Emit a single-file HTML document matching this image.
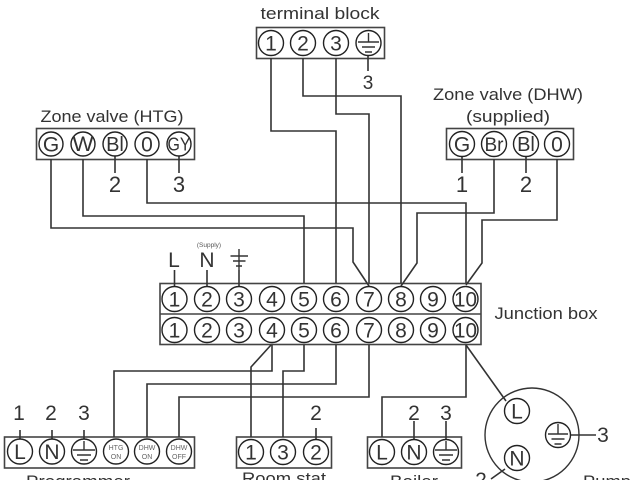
<!DOCTYPE html>
<html><head><meta charset="utf-8"><style>
html,body{margin:0;padding:0;background:#fff;width:640px;height:480px;overflow:hidden}
svg{display:block;filter:blur(.3px)}
text{font-family:"Liberation Sans",sans-serif;fill:#333;text-anchor:middle}
.w{fill:none;stroke:#333;stroke-width:1.6}
.b{fill:#fff;stroke:#444;stroke-width:1.6}
.c{fill:#fff;stroke:#222;stroke-width:1.4}
.g{fill:none;stroke:#333;stroke-width:1.4}
.n{font-size:21px}
.l{font-size:17px}
.s{font-size:6.5px;fill:#555}
</style></head><body>
<svg width="640" height="480" viewBox="0 0 640 480" xmlns="http://www.w3.org/2000/svg">
<!-- boxes -->
<rect class="b" x="256.5" y="27.5" width="128" height="31"/>
<rect class="b" x="36.5" y="128.5" width="158" height="31"/>
<rect class="b" x="446.5" y="128.5" width="127" height="31"/>
<rect class="b" x="160" y="283.5" width="321" height="61"/>
<path class="b" d="M160 314H481"/>
<rect class="b" x="4.5" y="437" width="190" height="31"/>
<rect class="b" x="236.5" y="437" width="95" height="31"/>
<rect class="b" x="367.5" y="437" width="94" height="31"/>
<circle cx="532" cy="435" r="47" fill="none" stroke="#333" stroke-width="1.4"/>
<!-- wires -->
<path class="w" d="M271 58V131H336V283"/>
<path class="w" d="M303 58V96H401V283"/>
<path class="w" d="M336 58V114H369V283"/>
<path class="w" d="M51 159V228H353V262L369 286"/>
<path class="w" d="M83 159V216H304V283"/>
<path class="w" d="M147 159V203H466V283"/>
<path class="w" d="M494 159V213H417V263L401 286"/>
<path class="w" d="M557 159V220H482V263L466 285"/>
<path class="w" d="M272 345V371H114V437"/>
<path class="w" d="M271 345L251 367V437"/>
<path class="w" d="M304 345V371H283V437"/>
<path class="w" d="M336 345V384H147V437"/>
<path class="w" d="M369 345V397H179V437"/>
<path class="w" d="M466 345V397H382V437"/>
<path class="w" d="M466 345L506 401"/>
<!-- ticks -->
<path class="w" d="M368 56V71M115 156V173M179 156V173M462 156V173M526 156V173M174.500 270V287M207 270V287M239 270V287M20 430V440M52 430V440M84 430V440M316 428V440M414 421V440M446 421V440M571 435H596M505 469L491 479"/>
<!-- terminal block circles -->
<circle class="c" cx="271" cy="43" r="12.500"/><text class="n" x="271" y="50.500">1</text>
<circle class="c" cx="303" cy="43" r="12.500"/><text class="n" x="303" y="50.500">2</text>
<circle class="c" cx="336" cy="43" r="12.500"/><text class="n" x="336" y="50.500">3</text>
<circle class="c" cx="368.500" cy="43" r="12.500"/>
<path class="g" d="M368.500 33V42M358 42H379M362 47H375M365 52H372"/>
<!-- HTG -->
<circle class="c" cx="51" cy="144" r="12"/><text class="n" x="51" y="151.500">G</text>
<circle class="c" cx="83" cy="144" r="12"/><text class="n" x="83" y="151" textLength="21" lengthAdjust="spacingAndGlyphs">W</text>
<circle class="c" cx="115" cy="144" r="12"/><text x="115" y="151" style="font-size:20px">Bl</text>
<circle class="c" cx="147" cy="144" r="12"/><text class="n" x="147" y="151.500">0</text>
<circle class="c" cx="179" cy="144" r="12"/><text x="179" y="150.500" style="font-size:18px" textLength="23" lengthAdjust="spacingAndGlyphs">GY</text>
<!-- DHW -->
<circle class="c" cx="462" cy="144" r="12.500"/><text class="n" x="462" y="151.500">G</text>
<circle class="c" cx="494" cy="144" r="12.500"/><text x="494" y="151" style="font-size:19px">Br</text>
<circle class="c" cx="526" cy="144" r="12.500"/><text x="526" y="151" style="font-size:20px">Bl</text>
<circle class="c" cx="557" cy="144" r="12.500"/><text class="n" x="557" y="151.500">0</text>
<!-- junction top -->
<circle class="c" cx="174.500" cy="299" r="12.500"/><text class="n" x="174.500" y="306.500">1</text>
<circle class="c" cx="207" cy="299" r="12.500"/><text class="n" x="207" y="306.500">2</text>
<circle class="c" cx="239" cy="299" r="12.500"/><text class="n" x="239" y="306.500">3</text>
<circle class="c" cx="272" cy="299" r="12.500"/><text class="n" x="272" y="306.500">4</text>
<circle class="c" cx="304" cy="299" r="12.500"/><text class="n" x="304" y="306.500">5</text>
<circle class="c" cx="336" cy="299" r="12.500"/><text class="n" x="336" y="306.500">6</text>
<circle class="c" cx="369" cy="299" r="12.500"/><text class="n" x="369" y="306.500">7</text>
<circle class="c" cx="401" cy="299" r="12.500"/><text class="n" x="401" y="306.500">8</text>
<circle class="c" cx="433" cy="299" r="12.500"/><text class="n" x="433" y="306.500">9</text>
<circle class="c" cx="465.500" cy="299" r="12.500"/><text class="n" x="465.500" y="306.500" textLength="23" lengthAdjust="spacingAndGlyphs">10</text>
<!-- junction bottom -->
<circle class="c" cx="174.500" cy="330" r="12.500"/><text class="n" x="174.500" y="337.500">1</text>
<circle class="c" cx="207" cy="330" r="12.500"/><text class="n" x="207" y="337.500">2</text>
<circle class="c" cx="239" cy="330" r="12.500"/><text class="n" x="239" y="337.500">3</text>
<circle class="c" cx="272" cy="330" r="12.500"/><text class="n" x="272" y="337.500">4</text>
<circle class="c" cx="304" cy="330" r="12.500"/><text class="n" x="304" y="337.500">5</text>
<circle class="c" cx="336" cy="330" r="12.500"/><text class="n" x="336" y="337.500">6</text>
<circle class="c" cx="369" cy="330" r="12.500"/><text class="n" x="369" y="337.500">7</text>
<circle class="c" cx="401" cy="330" r="12.500"/><text class="n" x="401" y="337.500">8</text>
<circle class="c" cx="433" cy="330" r="12.500"/><text class="n" x="433" y="337.500">9</text>
<circle class="c" cx="465.500" cy="330" r="12.500"/><text class="n" x="465.500" y="337.500" textLength="23" lengthAdjust="spacingAndGlyphs">10</text>
<!-- programmer -->
<circle class="c" cx="20" cy="451.500" r="12.500"/><text class="n" x="20" y="459">L</text>
<circle class="c" cx="52" cy="451.500" r="12.500"/><text class="n" x="52" y="459">N</text>
<circle class="c" cx="84" cy="451.500" r="12.500"/>
<path class="g" d="M84 441V450M73 450H95M77 455H91M80 460H88"/>
<circle class="c" cx="116" cy="451.500" r="12.500"/>
<text x="116" y="450" style="font-size:7px;fill:#666">HTG</text><text x="116" y="459" style="font-size:7px;fill:#666">ON</text>
<circle class="c" cx="147" cy="451.500" r="12.500"/>
<text x="147" y="450" style="font-size:7px;fill:#666">DHW</text><text x="147" y="459" style="font-size:7px;fill:#666">ON</text>
<circle class="c" cx="179" cy="451.500" r="12.500"/>
<text x="179" y="450" style="font-size:7px;fill:#666">DHW</text><text x="179" y="459" style="font-size:7px;fill:#666">OFF</text>
<!-- room stat -->
<circle class="c" cx="251" cy="452" r="12.500"/><text class="n" x="251" y="459.500">1</text>
<circle class="c" cx="283" cy="452" r="12.500"/><text class="n" x="283" y="459.500">3</text>
<circle class="c" cx="316" cy="452" r="12.500"/><text class="n" x="316" y="459.500">2</text>
<!-- boiler -->
<circle class="c" cx="382" cy="452" r="12.500"/><text class="n" x="382" y="459.500">L</text>
<circle class="c" cx="414" cy="452" r="12.500"/><text class="n" x="414" y="459.500">N</text>
<circle class="c" cx="446" cy="452" r="12.500"/>
<path class="g" d="M446 441V450M435 450H457M439 455H453M442 460H450"/>
<!-- pump -->
<circle class="c" cx="517" cy="411" r="12.500"/><text class="n" x="517" y="418.500">L</text>
<circle class="c" cx="558" cy="435" r="12.500"/>
<path class="g" d="M558 424V434M548 434H568M551.500 439H564.500M554.500 444H561.500"/>
<circle class="c" cx="517" cy="458" r="12.500"/><text class="n" x="517" y="465.500">N</text>
<!-- labels -->
<text class="l" x="320" y="19" textLength="119" lengthAdjust="spacingAndGlyphs">terminal block</text>
<text class="l" x="112" y="122" textLength="143" lengthAdjust="spacingAndGlyphs">Zone valve (HTG)</text>
<text class="l" x="508" y="100" textLength="150" lengthAdjust="spacingAndGlyphs">Zone valve (DHW)</text>
<text class="l" x="508" y="122" textLength="84" lengthAdjust="spacingAndGlyphs">(supplied)</text>
<text class="l" x="546" y="319" textLength="103" lengthAdjust="spacingAndGlyphs">Junction box</text>
<text x="368" y="89" style="font-size:19px">3</text>
<text x="115" y="192" style="font-size:22px">2</text>
<text x="179" y="192" style="font-size:22px">3</text>
<text x="462" y="192" style="font-size:22px">1</text>
<text x="526" y="192" style="font-size:22px">2</text>
<text x="174" y="267" style="font-size:21px">L</text>
<text x="207" y="267" style="font-size:21px">N</text>
<text class="s" x="209" y="247">(Supply)</text>
<path class="g" d="M239 249V270M230.500 256H248M233 261H245.500M236 266H242"/>
<text class="n" x="19" y="420">1</text>
<text class="n" x="51" y="420">2</text>
<text class="n" x="84" y="420">3</text>
<text class="n" x="316" y="420">2</text>
<text class="n" x="414" y="420">2</text>
<text class="n" x="446" y="420">3</text>
<text class="n" x="603" y="442">3</text>
<text class="n" x="481" y="487">2</text>
<text class="l" x="78" y="487" textLength="104" lengthAdjust="spacingAndGlyphs">Programmer</text>
<text class="l" x="284" y="484" textLength="84" lengthAdjust="spacingAndGlyphs">Room stat</text>
<text class="l" x="414" y="487" textLength="48" lengthAdjust="spacingAndGlyphs">Boiler</text>
<text class="l" x="607" y="487" textLength="48" lengthAdjust="spacingAndGlyphs">Pump</text>
</svg>
</body></html>
